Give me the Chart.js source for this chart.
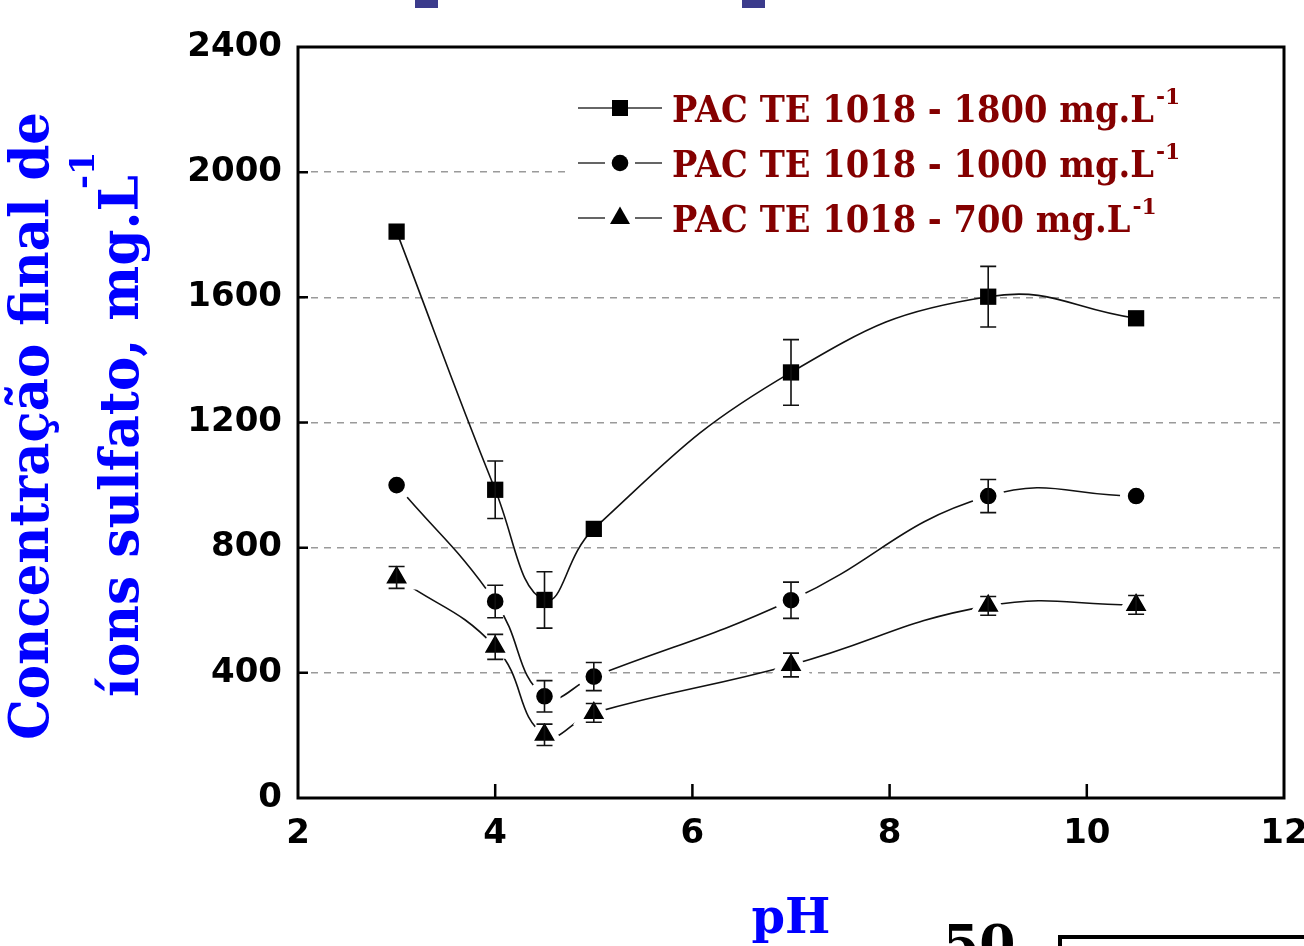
<!DOCTYPE html>
<html>
<head>
<meta charset="utf-8">
<script src="https://cdn.jsdelivr.net/npm/chart.js@4.4.1/dist/chart.umd.min.js"></script>
<style>
  html, body { margin: 0; padding: 0; background: #fff; overflow: hidden; }
  #wrap { width: 1304px; height: 946px; overflow: hidden; }
  #chart { display: block; }
</style>
</head>
<body>
<div id="wrap"><canvas id="chart" width="1340" height="946"></canvas></div>
<script>
// data
const phValues = [3, 4, 4.5, 5, 7, 9, 10.5];

const sulfate1800 = [1810, 985, 633, 860, 1360, 1602, 1533];
const err1800 = [0, 92, 90, 0, 105, 97, 0];

const sulfate1000 = [1000, 628, 325, 388, 632, 965, 965];
const err1000 = [0, 52, 50, 45, 58, 53, 0];

const sulfate700 = [705, 483, 202, 272, 425, 614, 617];
const err700 = [35, 40, 34, 30, 38, 30, 30];

const seriesLabels = ['PAC TE 1018 - 1800 mg.L', 'PAC TE 1018 - 1000 mg.L', 'PAC TE 1018 - 700 mg.L'];
const yTickValues = [0, 400, 800, 1200, 1600, 2000, 2400];
const xTickValues = [2, 4, 6, 8, 10, 12];

const yTitle1 = 'Concentração final de';
const yTitle2 = 'íons sulfato, mg.L';
const xTitle = 'pH';

const SERIF = '"DejaVu Serif", serif';
const BLUE = '#0000ff';
const DARKRED = '#840000';

function toPoints(values) {
    return phValues.map((x, i) => ({ x: x, y: values[i] }));
}

// fit a bold serif font so that text has the given width
function fitSize(ctx, text, width) {
    ctx.font = 'bold 100px ' + SERIF;
    return 100 * width / ctx.measureText(text).width;
}

// error bars, frame and inward ticks
const errorBars = {
    id: 'errorBars',
    beforeDatasetsDraw(chart) {
        const ctx = chart.ctx;
        ctx.save();
        ctx.fillStyle = '#fff';
        ctx.fillRect(566, 72, 716, 172);
        ctx.restore();
    },
    afterDatasetsDraw(chart) {
        const ctx = chart.ctx;
        const xs = chart.scales.x;
        const ys = chart.scales.y;
        const area = chart.chartArea;
        ctx.save();
        ctx.strokeStyle = '#111';
        ctx.lineWidth = 1.6;
        chart.data.datasets.forEach(ds => {
            ds.data.forEach((p, i) => {
                const e = ds.errors[i];
                if (!e) return;
                const px = xs.getPixelForValue(p.x);
                const top = ys.getPixelForValue(p.y + e);
                const bot = ys.getPixelForValue(p.y - e);
                ctx.beginPath();
                ctx.moveTo(px, top);
                ctx.lineTo(px, bot);
                ctx.moveTo(px - 8, top);
                ctx.lineTo(px + 8, top);
                ctx.moveTo(px - 8, bot);
                ctx.lineTo(px + 8, bot);
                ctx.stroke();
            });
        });

        // frame
        ctx.setLineDash([]);
        ctx.strokeStyle = '#000';
        ctx.lineWidth = 3;
        ctx.strokeRect(area.left, area.top, area.right - area.left, area.bottom - area.top);

        // inward ticks
        ctx.lineWidth = 2.5;
        ctx.beginPath();
        xTickValues.slice(1, -1).forEach(v => {
            const px = xs.getPixelForValue(v);
            ctx.moveTo(px, area.bottom);
            ctx.lineTo(px, area.bottom - 14);
        });
        yTickValues.slice(1, -1).forEach(v => {
            const py = ys.getPixelForValue(v);
            ctx.moveTo(area.left, py);
            ctx.lineTo(area.left + 10, py);
        });
        ctx.stroke();
        ctx.restore();
    }
};

function drawMarker(ctx, style, x, y) {
    ctx.fillStyle = '#000';
    ctx.beginPath();
    if (style === 'rect') {
        ctx.rect(x - 8, y - 8, 16, 16);
    } else if (style === 'circle') {
        ctx.arc(x, y, 8.3, 0, Math.PI * 2);
    } else {
        ctx.moveTo(x, y - 11.5);
        ctx.lineTo(x + 10, y + 6);
        ctx.lineTo(x - 10, y + 6);
        ctx.closePath();
    }
    ctx.fill();
}

// text squeezed sideways so it comes out a little taller than the font
function tallText(ctx, text, x, y, size, width) {
    ctx.font = 'bold ' + size + 'px ' + SERIF;
    const sx = width / ctx.measureText(text).width;
    ctx.save();
    ctx.translate(x, y);
    ctx.scale(sx, 1);
    ctx.fillText(text, 0, 0);
    ctx.restore();
    return width;
}

// legend, axis titles and the cut-off bits of neighbouring figures
const annotations = {
    id: 'annotations',
    afterDraw(chart) {
        const ctx = chart.ctx;
        ctx.save();

        // legend
        const styles = ['rect', 'circle', 'triangle'];
        const rowY = [108, 163, 218];
        const legendSize = fitSize(ctx, seriesLabels[0], 482) * 1.08;
        ctx.font = 'bold ' + legendSize + 'px ' + SERIF;
        const squeeze = 482 / ctx.measureText(seriesLabels[0]).width;
        styles.forEach((st, i) => {
            const y = rowY[i];
            ctx.strokeStyle = '#333';
            ctx.lineWidth = 1.6;
            ctx.beginPath();
            if (st === 'rect') {
                ctx.moveTo(578, y); ctx.lineTo(662, y);
            } else {
                ctx.moveTo(578, y); ctx.lineTo(605, y);
                ctx.moveTo(635, y); ctx.lineTo(662, y);
            }
            ctx.stroke();
            drawMarker(ctx, st, 620, y);

            ctx.fillStyle = DARKRED;
            ctx.textAlign = 'left';
            ctx.textBaseline = 'alphabetic';
            ctx.font = 'bold ' + legendSize + 'px ' + SERIF;
            const w = ctx.measureText(seriesLabels[i]).width * squeeze;
            tallText(ctx, seriesLabels[i], 672, y + 14, legendSize, w);
            ctx.font = 'bold ' + (legendSize * 0.6) + 'px ' + SERIF;
            ctx.fillText('-1', 672 + w + 2, y - 4);
        });

        // y title, two rotated lines
        ctx.fillStyle = BLUE;
        const s1 = fitSize(ctx, yTitle1, 628) * 1.05;
        ctx.save();
        ctx.translate(48, 740);
        ctx.rotate(-Math.PI / 2);
        ctx.textAlign = 'left';
        tallText(ctx, yTitle1, 0, 0, s1, 628);
        ctx.restore();

        const s2 = fitSize(ctx, yTitle2, 522) * 1.05;
        ctx.save();
        ctx.translate(138, 697);
        ctx.rotate(-Math.PI / 2);
        ctx.textAlign = 'left';
        tallText(ctx, yTitle2, 0, 0, s2, 522);
        ctx.font = 'bold ' + (s2 * 0.62) + 'px ' + SERIF;
        ctx.fillText('-1', 508, -s2 * 0.8);
        ctx.restore();

        // x title
        ctx.textAlign = 'center';
        ctx.font = 'bold 48px ' + SERIF;
        ctx.fillText(xTitle, 791, 933);

        // pieces of the next figure / caption, cut by the crop
        ctx.fillStyle = '#000';
        ctx.textAlign = 'left';
        ctx.font = 'bold 52px ' + SERIF;
        ctx.fillText('50', 943, 962);
        ctx.strokeStyle = '#000';
        ctx.lineWidth = 4;
        ctx.strokeRect(1060, 937, 320, 60);
        ctx.fillStyle = '#3b3b8c';
        ctx.fillRect(415, 0, 23, 8);
        ctx.fillRect(742, 0, 23, 8);

        ctx.restore();
    }
};

const lineColor = '#111';

const datasets = [
    {
        label: seriesLabels[0],
        data: toPoints(sulfate1800),
        errors: err1800,
        pointStyle: 'rect',
        pointRadius: 11.5,
        pointBorderWidth: 0,
        pointBorderColor: '#000'
    },
    {
        label: seriesLabels[1],
        data: toPoints(sulfate1000),
        errors: err1000,
        pointStyle: 'circle',
        pointRadius: 12.2,
        pointBorderWidth: 7.8,
        pointBorderColor: '#fff'
    },
    {
        label: seriesLabels[2],
        data: toPoints(sulfate700),
        errors: err700,
        pointStyle: 'triangle',
        pointRadius: 18,
        pointBorderWidth: 6,
        pointBorderColor: '#fff'
    }
].map(ds => Object.assign(ds, {
    showLine: true,
    borderColor: lineColor,
    borderWidth: 1.6,
    tension: 0.45,
    pointBackgroundColor: '#000',
    pointHoverRadius: ds.pointRadius
}));

const tickFont = { family: '"DejaVu Sans", sans-serif', weight: 'bold', size: 34 };

new Chart(document.getElementById('chart'), {
    type: 'scatter',
    data: { datasets: datasets },
    options: {
        responsive: false,
        animation: false,
        devicePixelRatio: 1,
        events: [],
        layout: { padding: { top: 47, right: 56, left: 0, bottom: 0 } },
        plugins: {
            legend: { display: false },
            tooltip: { enabled: false }
        },
        scales: {
            x: {
                type: 'linear',
                min: 2,
                max: 12,
                afterFit: s => { s.height = 148; },
                afterBuildTicks: s => { s.ticks = xTickValues.map(v => ({ value: v })); },
                grid: { display: false, drawTicks: false },
                border: { display: false },
                ticks: { font: tickFont, color: '#000', padding: 16, maxRotation: 0, callback: v => String(v) }
            },
            y: {
                type: 'linear',
                min: 0,
                max: 2400,
                afterFit: s => { s.width = 298; },
                afterBuildTicks: s => { s.ticks = yTickValues.map(v => ({ value: v })); },
                grid: {
                    drawTicks: false,
                    lineWidth: 1.5,
                    color: c => (c.tick && (c.tick.value === 0 || c.tick.value === 2400)) ? 'rgba(0,0,0,0)' : '#9a9a9a'
                },
                border: { display: false, dash: [7, 6] },
                ticks: { font: tickFont, color: '#000', padding: 16, callback: v => String(v) }
            }
        }
    },
    plugins: [errorBars, annotations]
});
</script>
</body>
</html>
